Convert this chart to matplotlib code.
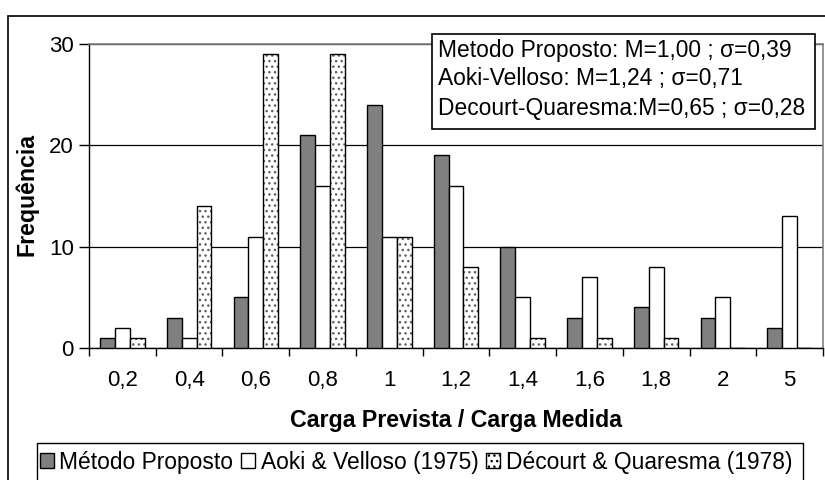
import matplotlib
matplotlib.use("Agg")
import matplotlib.pyplot as plt
from matplotlib.patches import Rectangle, Patch
import numpy as np

plt.rcParams['font.family'] = ['Liberation Sans', 'DejaVu Sans']
plt.rcParams['hatch.linewidth'] = 1.0

categories = ['0,2', '0,4', '0,6', '0,8', '1', '1,2', '1,4', '1,6', '1,8', '2', '5']
metodo_proposto = [1, 3, 5, 21, 24, 19, 10, 3, 4, 3, 2]
aoki_velloso = [2, 1, 11, 16, 11, 16, 5, 7, 8, 5, 13]
decourt_quaresma = [1, 14, 29, 29, 11, 8, 1, 1, 1, 0, 0]

series_names = ['Método Proposto', 'Aoki & Velloso (1975)', 'Décourt & Quaresma (1978)']
stats_lines = ['Metodo Proposto: M=1,00 ; σ=0,39',
               'Aoki-Velloso: M=1,24 ; σ=0,71',
               'Decourt-Quaresma:M=0,65 ; σ=0,28']

W, H = 825, 480
fig = plt.figure(figsize=(W / 100, H / 100), dpi=100)

def fx(px):
    return px / W

def fy(py):
    return 1 - py / H

ax = fig.add_axes([fx(89), fy(348), fx(823) - fx(89), fy(44) - fy(348)])

x = np.arange(len(categories))
w = 1 / 4.5
fills = ['#808080', 'white', 'white']
hatches = [None, None, '...']
DOT = '#606060'
for k, vals in enumerate([metodo_proposto, aoki_velloso, decourt_quaresma]):
    pos = x + (k - 1) * w
    if hatches[k]:
        # dotted fill layer, outline drawn on top
        ax.bar(pos, vals, width=w, facecolor=fills[k], edgecolor=DOT, linewidth=0,
               hatch=hatches[k], zorder=3)
        ax.bar(pos, vals, width=w, facecolor='none', edgecolor='black', linewidth=1.0, zorder=4)
    else:
        ax.bar(pos, vals, width=w, facecolor=fills[k], edgecolor='black', linewidth=1.0, zorder=3)

ax.set_xlim(-0.5, len(categories) - 0.5)
ax.set_ylim(0, 30)
ax.set_yticks([0, 10, 20, 30])
ax.set_xticks(x)
ax.set_xticklabels(categories)
ax.set_xticks(np.arange(-0.5, len(categories)), minor=True)
ax.tick_params(axis='x', which='major', length=0, pad=16, labelsize=16)
ax.tick_params(axis='x', which='minor', length=6, width=1, direction='out')
ax.tick_params(axis='y', length=7, width=1, direction='out', labelsize=16, pad=4)
ax.yaxis.grid(True, color='black', linewidth=0.9, zorder=0)
ax.set_axisbelow(True)
for s in ['top', 'right']:
    ax.spines[s].set_color('#808080')
    ax.spines[s].set_linewidth(1.2)
for s in ['left', 'bottom']:
    ax.spines[s].set_color('black')
    ax.spines[s].set_linewidth(1.0)

# axis titles
fig.text(fx(456), fy(420), 'Carga Prevista / Carga Medida', ha='center', va='center',
         fontsize=16.7, fontweight='bold')
fig.text(fx(27), fy(194), 'Frequência', ha='center', va='center', rotation=90,
         fontsize=16.7, fontweight='bold')

# statistics box
fig.patches.append(Rectangle((fx(432), fy(129)), fx(815) - fx(432), fy(34) - fy(129),
                             transform=fig.transFigure, facecolor='white', edgecolor='black',
                             linewidth=1.2, zorder=5))
for i, line in enumerate(stats_lines):
    fig.text(fx(438), fy(50 + 29 * i), line, ha='left', va='center', fontsize=16.4, zorder=6)

# outer chart frame
fig.patches.append(Rectangle((fx(8), fy(490)), fx(830) - fx(8), fy(16) - fy(490),
                             transform=fig.transFigure, facecolor='none', edgecolor='black',
                             linewidth=1.2, zorder=1))

# legend
fig.patches.append(Rectangle((fx(37), fy(490)), fx(803) - fx(37), fy(443) - fy(490),
                             transform=fig.transFigure, facecolor='white', edgecolor='black',
                             linewidth=1.0, zorder=5))
handles = [Patch(facecolor=fills[k], edgecolor='black', hatch=hatches[k], linewidth=1.0)
           for k in range(3)]
leg = fig.legend(handles, series_names, loc='center left',
                 bbox_to_anchor=(fx(40), fy(462)), ncol=3, frameon=False,
                 fontsize=16.4, handlelength=0.6, handleheight=0.6,
                 handletextpad=0.25, columnspacing=0.35, borderpad=0, borderaxespad=0)
leg.set_zorder(6)

fig.savefig('out.png', dpi=100)
